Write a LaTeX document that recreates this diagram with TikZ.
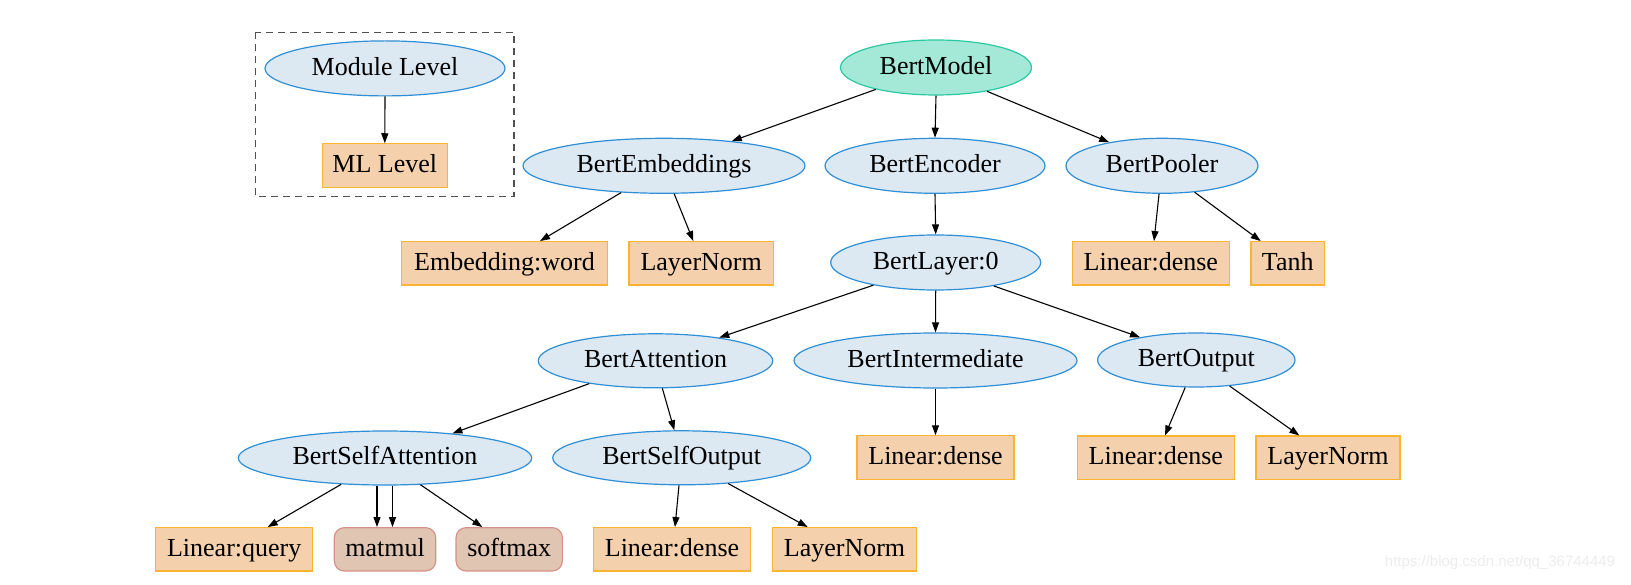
\documentclass[tikz,border=0pt]{standalone}
\usepackage{fontspec}
\setmainfont{Liberation Serif}
\newfontfamily\wmfont{Liberation Sans}
\usetikzlibrary{shapes.geometric,arrows.meta}
\definecolor{modfill}{RGB}{220,232,242}
\definecolor{moddraw}{RGB}{46,143,214}
\definecolor{rootfill}{RGB}{164,233,215}
\definecolor{rootdraw}{RGB}{43,201,162}
\definecolor{mlfill}{RGB}{244,209,172}
\definecolor{mldraw}{RGB}{250,180,50}
\definecolor{opfill}{RGB}{224,197,178}
\definecolor{opdraw}{RGB}{214,146,136}
\definecolor{wmgray}{RGB}{236,236,236}
\definecolor{dashgray}{RGB}{80,80,80}
\tikzset{
  base/.style={inner sep=0pt, line width=1.2pt, font=\fontsize{26}{30}\selectfont, text height=18.5pt, text depth=5pt},
  mod/.style={base, ellipse, draw=moddraw, fill=modfill, minimum height=55pt},
  root/.style={base, ellipse, draw=rootdraw, fill=rootfill, minimum height=55pt},
  mlbox/.style={base, rectangle, draw=mldraw, fill=mlfill, minimum height=43.3pt},
  opbox/.style={base, rectangle, rounded corners=10pt, draw=opdraw, fill=opfill, minimum height=43.3pt},
  edge/.style={line width=1.1pt, -{Triangle[length=10pt,width=7pt]}}
}
\begin{document}
\begin{tikzpicture}[x=1pt,y=-1pt]
\useasboundingbox (0,0) rectangle (1631,585);
% legend
\draw[dashgray, line width=1.3pt, dash pattern=on 7pt off 5pt] (255.7,32.3) rectangle (514,196.7);
\node[mod, minimum width=240pt] (ml) at (385,68.4) {Module Level};
\node[mlbox, minimum width=125pt] (mlb) at (384.8,165.5) {ML Level};
\draw[edge] (ml.south) -- (mlb.north);
% row 1-2
\node[root, minimum width=191pt] (bm) at (936,67.5) {BertModel};
\node[mod, minimum width=282pt] (be) at (664,165.8) {BertEmbeddings};
\node[mod, minimum width=220pt] (benc) at (935,165.8) {BertEncoder};
\node[mod, minimum width=192pt] (bp) at (1162,165.8) {BertPooler};
% row 3
\node[mlbox, minimum width=205.6pt] (ew) at (504.5,263.3) {Embedding:word};
\node[mlbox, minimum width=144.3pt] (ln1) at (701.2,263.3) {LayerNorm};
\node[mod, minimum width=210pt] (bl) at (935.7,262.5) {BertLayer:0};
\node[mlbox, minimum width=157pt] (ld1) at (1150.8,263.3) {Linear:dense};
\node[mlbox, minimum width=73.3pt] (tanh) at (1287.7,263.3) {Tanh};
% row 4
\node[mod, minimum width=234.4pt, minimum height=54pt] (ba) at (655.5,360.8) {BertAttention};
\node[mod, minimum width=283pt] (bi) at (935.5,360.5) {BertIntermediate};
\node[mod, minimum width=197.4pt, minimum height=54pt] (bo) at (1196.3,360) {BertOutput};
% row 5
\node[mod, minimum width=293.4pt, minimum height=54pt] (bsa) at (385,458) {BertSelfAttention};
\node[mod, minimum width=258pt, minimum height=54pt] (bso) at (681.7,457.8) {BertSelfOutput};
\node[mlbox, minimum width=157pt] (ld2) at (935.5,457.5) {Linear:dense};
\node[mlbox, minimum width=157pt] (ld3) at (1155.8,457.7) {Linear:dense};
\node[mlbox, minimum width=144pt] (ln3) at (1328,457.7) {LayerNorm};
% row 6
\node[mlbox, minimum width=157pt] (lq) at (234.2,549.3) {Linear:query};
\node[opbox, minimum width=101.4pt] (mm) at (385,549.3) {matmul};
\node[opbox, minimum width=106.3pt] (sm) at (509.2,549.3) {softmax};
\node[mlbox, minimum width=157.4pt] (ld4) at (672,549.3) {Linear:dense};
\node[mlbox, minimum width=144.4pt] (ln4) at (844.5,549.3) {LayerNorm};
% edges
\draw[edge] (bm.200.7) -- (be.20.5);
\draw[edge] (bm.south) -- (benc.north);
\draw[edge] (bm.335.1) -- (bp.156);
\draw[edge] (be.212.2) -- ([xshift=35.5pt]ew.north);
\draw[edge] (be.290.4) -- ([xshift=-7.9pt]ln1.north);
\draw[edge] (bp.264.2) -- ([xshift=3.2pt]ld1.north);
\draw[edge] (bp.321.2) -- ([xshift=-27pt]tanh.north);
\draw[edge] (benc.south) -- (bl.north);
\draw[edge] (bl.200.6) -- (ba.20.7);
\draw[edge] (bl.south) -- (bi.north);
\draw[edge] (bl.338.4) -- (bo.158.6);
\draw[edge] (ba.199.9) -- (bsa.20.8);
\draw[edge] (ba.284.7) -- (bso.105.9);
\draw[edge] (bi.south) -- (ld2.north);
\draw[edge] (bo.248.2) -- ([xshift=9.2pt]ld3.north);
\draw[edge] (bo.322.2) -- ([xshift=-28.7pt]ln3.north);
\draw[edge] (bsa.211.1) -- ([xshift=33.5pt]lq.north);
\draw[edge] ([xshift=-8pt]bsa.south) -- ([xshift=-8pt]mm.north);
\draw[edge] ([xshift=7.5pt]bsa.south) -- ([xshift=7.5pt]mm.north);
\draw[edge] (bsa.323.6) -- ([xshift=-26.9pt]sm.north);
\draw[edge] ([xshift=-2.7pt]bso.south) -- ([xshift=3pt]ld4.north);
\draw[edge] (bso.331) -- ([xshift=-36.8pt]ln4.north);
% watermark
\node[inner sep=0pt, text=wmgray, font=\wmfont\fontsize{15}{18}\selectfont] (wm) at (1500,563) {https://blog.csdn.net/qq\_36744449};
\end{tikzpicture}
\end{document}
